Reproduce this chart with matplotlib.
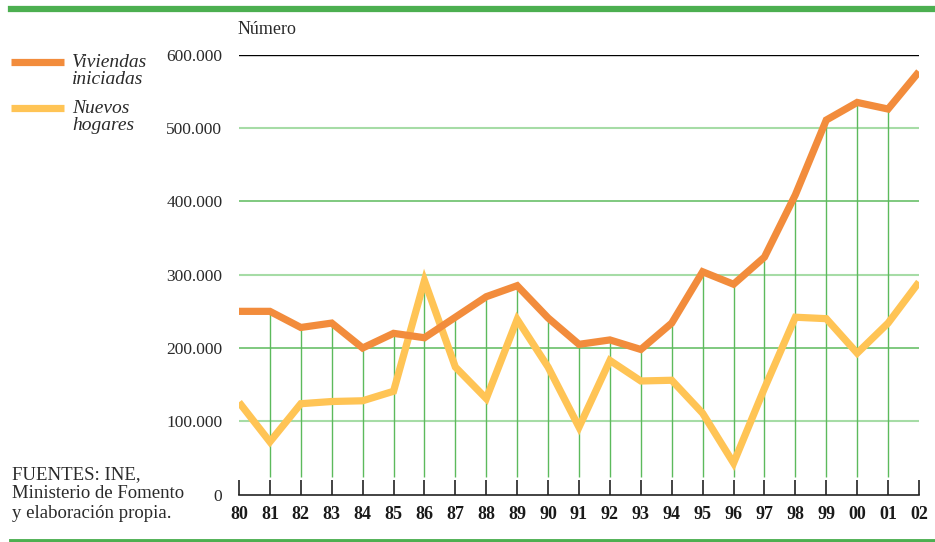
import numpy as np
from matplotlib import pyplot as plt
from matplotlib.lines import Line2D

years = ['80', '81', '82', '83', '84', '85', '86', '87', '88', '89', '90', '91',
         '92', '93', '94', '95', '96', '97', '98', '99', '00', '01', '02']
viviendas = [250000, 250000, 228000, 234000, 200000, 220000, 214000, 242000, 270000,
             285000, 241000, 205000, 211000, 198000, 234000, 304000, 287000, 324000,
             409000, 511000, 535000, 526000, 577000]
hogares = [126000, 72000, 124000, 127000, 128000, 141000, 292000, 174000, 131000,
           239000, 174000, 92000, 183000, 155000, 156000, 111000, 43000, 145000,
           242000, 240000, 193000, 234000, 290000]
yticks = [0, 100000, 200000, 300000, 400000, 500000, 600000]
ylabels = ['0', '100.000', '200.000', '300.000', '400.000', '500.000', '600.000']

plt.rcParams['font.family'] = ['Liberation Serif', 'DejaVu Serif']

W, H = 935, 542
fig = plt.figure(figsize=(W / 100, H / 100), dpi=100)
ax = fig.add_axes([239 / W, 1 - 494.6 / H, 680 / W, (494.6 - 54.8) / H])

x = np.arange(len(years))
orange = '#f28c3c'
yellow = '#ffc455'
grid_light = '#a6dca6'
grid_dark = '#5cba5c'
text_col = '#2a2a2a'

# horizontal grid, alternating shades
ax.hlines([100000, 300000, 500000], -0.05, x[-1], color=grid_light, lw=1.5, zorder=1)
ax.hlines([200000, 400000], -0.05, x[-1], color=grid_dark, lw=1.1, zorder=1)
ax.hlines(600000, -0.05, x[-1], color='black', lw=1.0, zorder=1)
# vertical grid up to the higher series
top = np.maximum(viviendas, hogares)
ax.vlines(x[1:-1], 24000, top[1:-1], color=grid_dark, lw=1.0, zorder=1)

ax.plot(x, hogares, color=yellow, lw=5.2, solid_capstyle='butt', solid_joinstyle='miter', zorder=3)
ax.plot(x, viviendas, color=orange, lw=5.2, solid_capstyle='butt', solid_joinstyle='miter', zorder=4)

ax.set_xlim(0, x[-1])
ax.set_ylim(0, 600000)
for s in ['top', 'right', 'left']:
    ax.spines[s].set_visible(False)
ax.spines['bottom'].set_color('#222222')
ax.spines['bottom'].set_linewidth(1.2)

ax.set_xticks(x)
ax.set_xticklabels(years, fontsize=13, fontweight='bold', color='#1a1a1a')
ax.tick_params(axis='x', direction='in', length=11, width=1.2, color='#222222', pad=8)
ax.set_yticks(yticks)
ax.set_yticklabels(ylabels, fontsize=12.5, color=text_col)
ax.tick_params(axis='y', length=0, pad=12)

fig.text(238 / W, 1 - 30 / H, 'Número', fontsize=13, color=text_col, va='center', ha='left')

# legend
fig.add_artist(Line2D([11 / W, 64 / W], [1 - 62 / H, 1 - 62 / H], color=orange, lw=5.2,
                      solid_capstyle='butt'))
fig.add_artist(Line2D([11 / W, 64 / W], [1 - 108 / H, 1 - 108 / H], color=yellow, lw=5.2,
                      solid_capstyle='butt'))
fig.text(72 / W, 1 - 71 / H, 'Viviendas\niniciadas', fontsize=14, style='italic',
         color=text_col, va='center', ha='left', linespacing=1.05)
fig.text(72 / W, 1 - 117 / H, 'Nuevos\nhogares', fontsize=14, style='italic',
         color=text_col, va='center', ha='left', linespacing=1.05)

fig.text(12 / W, 1 - 494 / H, 'FUENTES: INE,\nMinisterio de Fomento\ny elaboración propia.',
         fontsize=13.5, color=text_col, va='center', ha='left', linespacing=1.18)

# green rules
band = '#4caf50'
fig.add_artist(Line2D([11 / W, 1], [1 - 9 / H, 1 - 9 / H], color=band, lw=4.5))
fig.add_artist(Line2D([11 / W, 1], [1 - 540.5 / H, 1 - 540.5 / H], color=band, lw=3.5))

plt.savefig('out.png', dpi=100)
